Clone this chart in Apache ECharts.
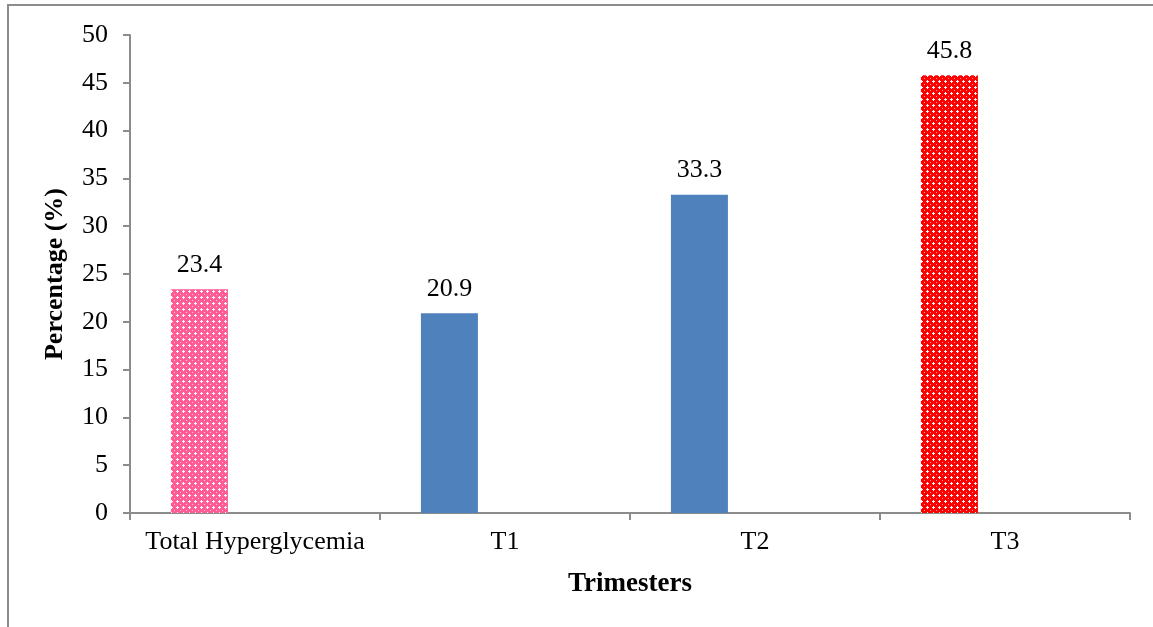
<!DOCTYPE html>
<html>
<head>
<meta charset="utf-8">
<script src="https://cdn.jsdelivr.net/npm/echarts@6/dist/echarts.min.js"></script>
<style>
  html, body { margin: 0; padding: 0; background: #fff; }
  #frame { position: absolute; left: 7px; top: 4px; width: 1146px; height: 623px;
           border-top: 2px solid #8c8c8c; border-left: 2px solid #8c8c8c; box-sizing: border-box; }
  #chart { position: absolute; left: 0; top: 0; width: 1153px; height: 627px; }
</style>
</head>
<body>
<div id="frame"></div>
<div id="chart"></div>
<script>
const categories = ['Total Hyperglycemia', 'T1', 'T2', 'T3'];
const percentages = [23.4, 20.9, 33.3, 45.8];
const yTicks = [0, 5, 10, 15, 20, 25, 30, 35, 40, 45, 50];

// dotted fill tiles for the highlighted bars
function dotTile(base) {
  const c = document.createElement('canvas');
  c.width = 6; c.height = 6;
  const g = c.getContext('2d');
  g.fillStyle = base;
  g.fillRect(0, 0, 6, 6);
  g.fillStyle = 'rgba(255,255,255,0.95)';
  g.fillRect(3, 2, 1, 3);
  g.fillRect(2, 3, 3, 1);
  g.fillStyle = 'rgba(255,255,255,0.6)';
  g.fillRect(0, 0, 1, 1);
  return c;
}
const pinkFill = { image: dotTile('#ff5c95'), repeat: 'repeat' };
const redFill = { image: dotTile('#ff0000'), repeat: 'repeat' };
const blue = '#4f81bd';
const fills = [pinkFill, blue, blue, redFill];

const chart = echarts.init(document.getElementById('chart'), null, { renderer: 'canvas' });
const font = '"Liberation Serif", "Times New Roman", serif';

chart.setOption({
  animation: false,
  grid: { left: 130, right: 23, top: 35, bottom: 114, containLabel: false },
  xAxis: {
    type: 'category',
    data: categories,
    axisLine: { lineStyle: { color: '#8c8c8c', width: 2 } },
    axisTick: { show: true, interval: 0, length: 7, alignWithLabel: false, lineStyle: { color: '#8c8c8c', width: 2 } },
    axisLabel: { interval: 0, hideOverlap: false, color: '#000', fontFamily: font, fontSize: 26, margin: 16 },
    name: 'Trimesters',
    nameLocation: 'middle',
    nameGap: 58,
    nameTextStyle: { color: '#000', fontFamily: font, fontSize: 27, fontWeight: 'bold' }
  },
  yAxis: {
    type: 'value',
    min: yTicks[0],
    max: yTicks[yTicks.length - 1],
    interval: 5,
    splitLine: { show: false },
    axisLine: { show: true, lineStyle: { color: '#8c8c8c', width: 2 } },
    axisTick: { show: true, length: 7, lineStyle: { color: '#8c8c8c', width: 2 } },
    axisLabel: { color: '#000', fontFamily: font, fontSize: 26, margin: 22 },
    name: 'Percentage (%)',
    nameLocation: 'middle',
    nameGap: 62,
    nameTextStyle: { color: '#000', fontFamily: font, fontSize: 26, fontWeight: 'bold' }
  },
  series: [
    {
      type: 'bar',
      barWidth: 57,
      barGap: '95%',
      data: percentages.map((v, i) => ({ value: v, itemStyle: { color: fills[i] } })),
      label: {
        show: true,
        position: 'top',
        distance: 11,
        color: '#000',
        fontFamily: font,
        fontSize: 26,
        formatter: p => p.value.toFixed(1)
      }
    },
    {
      // empty companion series keeps each bar to the left of its category
      type: 'bar',
      barWidth: 57,
      data: categories.map(() => null),
      silent: true
    }
  ]
});
</script>
</body>
</html>
